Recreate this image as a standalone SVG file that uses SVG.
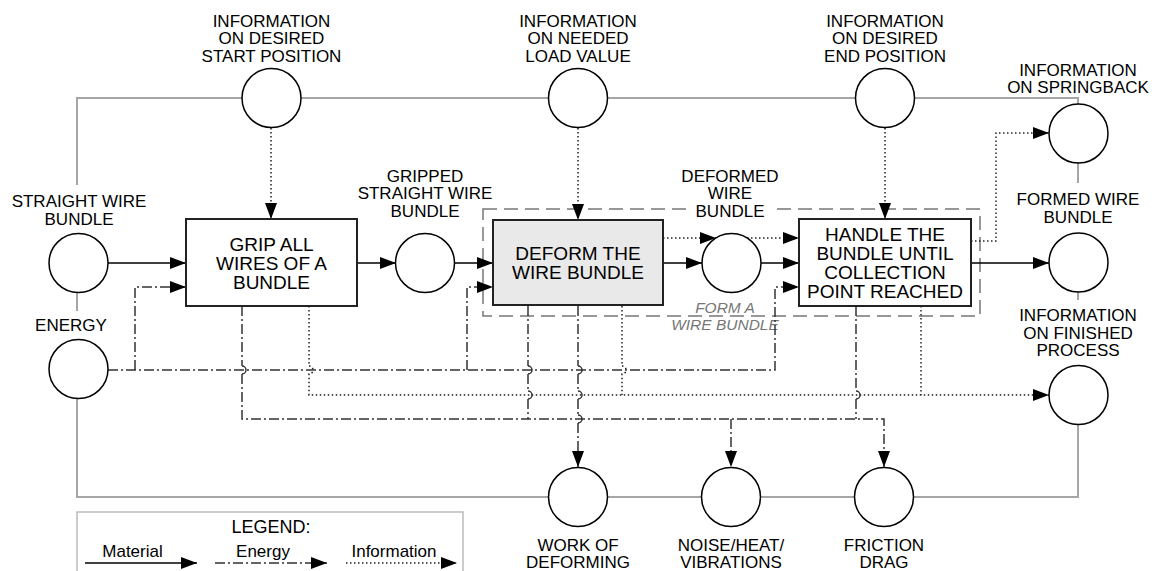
<svg xmlns="http://www.w3.org/2000/svg" width="1160" height="571" viewBox="0 0 1160 571">
<defs>
<marker id="ah" markerUnits="userSpaceOnUse" markerWidth="17" markerHeight="12" refX="16" refY="6" orient="auto">
<path d="M0,0 L16,6 L0,12 Z" fill="#000"/>
</marker>
<style>
text{font-family:"Liberation Sans",Arial,sans-serif;fill:#000;text-anchor:middle}
.lbl{font-size:17px}
.box{font-size:19px}
.frame{fill:none;stroke:#a6a6a6;stroke-width:2}
.node{fill:#fff;stroke:#000;stroke-width:1.5}
.fn{fill:#fff;stroke:#222;stroke-width:2}
.fng{fill:#e9e9e9;stroke:#222;stroke-width:2}
.mat{fill:none;stroke:#000;stroke-width:1.6}
.en{fill:none;stroke:#333;stroke-width:1.5;stroke-dasharray:10,3,2,3}
.hop{fill:none;stroke:#333;stroke-width:1.5}
.inf{fill:none;stroke:#222;stroke-width:1.5;stroke-dasharray:1.5,2.5}
.grp{fill:none;stroke:#777;stroke-width:1.5;stroke-dasharray:14,7}
.grpl{font-size:15.5px;font-style:italic;fill:#777}
</style>
</defs>
<rect width="1160" height="571" fill="#fff"/>

<g id="system-boundary">
<path class="frame" d="M77,185 V98 H1078 V104"/>
<path class="frame" d="M1078,163 V183"/>
<path class="frame" d="M1078,292 V300"/>
<path class="frame" d="M1078,424 V497 H77 V398"/>
<path class="frame" d="M77,293 V311"/>
</g>

<g id="group-form">
<rect class="grp" x="483" y="209" width="497" height="107"/>
<text class="grpl" x="725" y="313">FORM A</text>
<text class="grpl" x="725" y="330">WIRE BUNDLE</text>
</g>

<g id="connectors">
<!-- material -->
<path class="mat" d="M108,263 H186" marker-end="url(#ah)"/>
<path class="mat" d="M357,263 H396" marker-end="url(#ah)"/>
<path class="mat" d="M454,263 H493" marker-end="url(#ah)"/>
<path class="mat" d="M663,263 H702" marker-end="url(#ah)"/>
<path class="mat" d="M761,263 H799" marker-end="url(#ah)"/>
<path class="mat" d="M971,263 H1049" marker-end="url(#ah)"/>
<!-- information -->
<path class="inf" d="M271,128 V219" marker-end="url(#ah)"/>
<path class="inf" d="M578,128 V220" marker-end="url(#ah)"/>
<path class="inf" d="M885,128 V219" marker-end="url(#ah)"/>
<path class="inf" d="M663,238 H716" marker-end="url(#ah)"/>
<path class="inf" d="M747,238 H799" marker-end="url(#ah)"/>
<path class="inf" d="M971,241 H996 V133 H1049" marker-end="url(#ah)"/>
<path class="inf" d="M309,306 V366 A4,4 0 0 1 309,374 V395 H1049" marker-end="url(#ah)"/>
<path class="inf" d="M622,306 V366 A4,4 0 0 1 622,374 V395"/>
<path class="inf" d="M921,306 V395"/>
<!-- energy in -->
<path class="en" d="M108,370 H775 V287 H799" marker-end="url(#ah)"/>
<path class="en" d="M135,370 V287 H186" marker-end="url(#ah)"/>
<path class="en" d="M467,370 V287 H493" marker-end="url(#ah)"/>
<!-- energy out -->
<path class="en" d="M242,306 V366 M242,374 V419 H884 V467" marker-end="url(#ah)"/>
<path class="en" d="M528,306 V366 M528,374 V391 M528,399 V419"/>
<path class="en" d="M578,306 V366 M578,374 V391 M578,399 V415 M578,423 V467" marker-end="url(#ah)"/>
<path class="en" d="M856,306 V391 M856,399 V419"/>
<path class="en" d="M731,419 V467" marker-end="url(#ah)"/>
<path class="hop" d="M242,366 A4,4 0 0 1 242,374 M528,366 A4,4 0 0 1 528,374 M528,391 A4,4 0 0 1 528,399 M578,366 A4,4 0 0 1 578,374 M578,391 A4,4 0 0 1 578,399 M578,415 A4,4 0 0 1 578,423 M856,391 A4,4 0 0 1 856,399"/>
</g>

<g id="info-start">
<circle class="node" cx="271.5" cy="98" r="29.5"/>
<text class="lbl" x="271.5" y="26.5">INFORMATION</text>
<text class="lbl" x="271.5" y="44">ON DESIRED</text>
<text class="lbl" x="271.5" y="61.5">START POSITION</text>
</g>
<g id="info-load">
<circle class="node" cx="578" cy="98" r="29.5"/>
<text class="lbl" x="578" y="26.5">INFORMATION</text>
<text class="lbl" x="578" y="44">ON NEEDED</text>
<text class="lbl" x="578" y="61.5">LOAD VALUE</text>
</g>
<g id="info-end">
<circle class="node" cx="885" cy="98" r="29.5"/>
<text class="lbl" x="885" y="26.5">INFORMATION</text>
<text class="lbl" x="885" y="44">ON DESIRED</text>
<text class="lbl" x="885" y="61.5">END POSITION</text>
</g>
<g id="info-springback">
<circle class="node" cx="1078.5" cy="133.5" r="29.5"/>
<text class="lbl" x="1078" y="76">INFORMATION</text>
<text class="lbl" x="1078" y="93">ON SPRINGBACK</text>
</g>
<g id="straight-wire">
<circle class="node" cx="78.5" cy="263" r="29.5"/>
<text class="lbl" x="79" y="207">STRAIGHT WIRE</text>
<text class="lbl" x="79" y="224.5">BUNDLE</text>
</g>
<g id="energy">
<circle class="node" cx="78.5" cy="369" r="29.5"/>
<text class="lbl" x="71" y="331">ENERGY</text>
</g>
<g id="grip">
<rect class="fn" x="186" y="219" width="171" height="87"/>
<text class="box" x="271.5" y="250.5">GRIP ALL</text>
<text class="box" x="271.5" y="270">WIRES OF A</text>
<text class="box" x="271.5" y="289">BUNDLE</text>
</g>
<g id="gripped">
<circle class="node" cx="425" cy="263" r="29.5"/>
<text class="lbl" x="425" y="181.5">GRIPPED</text>
<text class="lbl" x="425" y="199">STRAIGHT WIRE</text>
<text class="lbl" x="425" y="216.5">BUNDLE</text>
</g>
<g id="deform">
<rect class="fng" x="493" y="220" width="170" height="85"/>
<text class="box" x="578" y="260">DEFORM THE</text>
<text class="box" x="578" y="279">WIRE BUNDLE</text>
</g>
<g id="deformed">
<circle class="node" cx="731.5" cy="263" r="29.5"/>
<rect x="692" y="203" width="78" height="16" fill="#fff"/>
<text class="lbl" x="730" y="181.5">DEFORMED</text>
<text class="lbl" x="730" y="199">WIRE</text>
<text class="lbl" x="730" y="216.5">BUNDLE</text>
</g>
<g id="handle">
<rect class="fn" x="799" y="219" width="172" height="87"/>
<text class="box" x="885" y="241">HANDLE THE</text>
<text class="box" x="885" y="260">BUNDLE UNTIL</text>
<text class="box" x="885" y="279.3">COLLECTION</text>
<text class="box" x="885" y="298.3">POINT REACHED</text>
</g>
<g id="formed">
<circle class="node" cx="1078.5" cy="262.5" r="29.5"/>
<text class="lbl" x="1078" y="205">FORMED WIRE</text>
<text class="lbl" x="1078" y="222.5">BUNDLE</text>
</g>
<g id="info-finished">
<circle class="node" cx="1078.5" cy="395" r="29.5"/>
<text class="lbl" x="1078" y="321">INFORMATION</text>
<text class="lbl" x="1078" y="338.5">ON FINISHED</text>
<text class="lbl" x="1078" y="356">PROCESS</text>
</g>
<g id="work">
<circle class="node" cx="578" cy="497" r="29.5"/>
<text class="lbl" x="578" y="551">WORK OF</text>
<text class="lbl" x="578" y="568">DEFORMING</text>
</g>
<g id="noise">
<circle class="node" cx="731" cy="497" r="29.5"/>
<text class="lbl" x="731" y="551">NOISE/HEAT/</text>
<text class="lbl" x="731" y="568">VIBRATIONS</text>
</g>
<g id="friction">
<circle class="node" cx="884" cy="497" r="29.5"/>
<text class="lbl" x="884" y="551">FRICTION</text>
<text class="lbl" x="884" y="568">DRAG</text>
</g>

<g id="legend">
<rect x="77" y="512" width="386" height="75" fill="none" stroke="#bbb" stroke-width="1.5"/>
<text x="271" y="532.5" style="font-size:18px">LEGEND:</text>
<text class="lbl" x="132.5" y="557">Material</text>
<text class="lbl" x="263" y="557">Energy</text>
<text class="lbl" x="394" y="557">Information</text>
<path class="mat" d="M85,563 H197" marker-end="url(#ah)"/>
<path class="en" d="M215,563 H327" marker-end="url(#ah)"/>
<path class="inf" d="M346,563 H457" marker-end="url(#ah)"/>
</g>
</svg>
